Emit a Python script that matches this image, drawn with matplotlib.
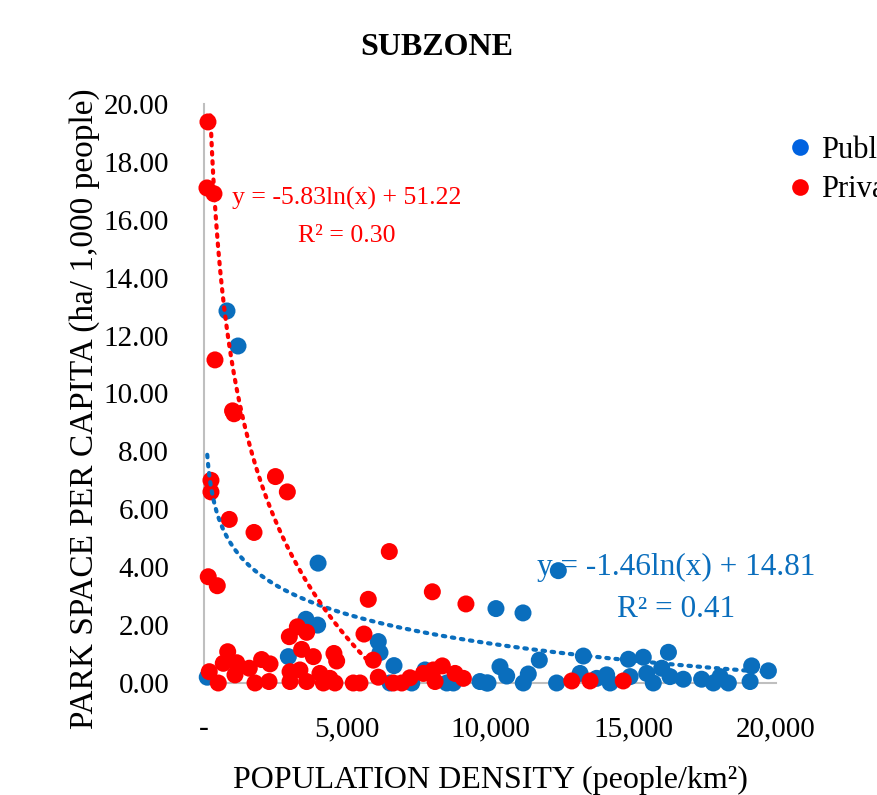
import matplotlib
matplotlib.use("Agg")
import matplotlib.pyplot as plt
import numpy as np
from matplotlib.lines import Line2D

# public park space per capita vs population density
public_x = [115, 805, 1190, 3990, 3567, 3975, 2950, 6095, 6155, 6645, 6505, 7265, 7730,
            8490, 8720, 9650, 9930, 10210, 11155, 12390, 11725, 10350, 10585, 9885, 11165,
            11340, 12330, 13265, 13150, 13730, 14080, 14200, 14840, 15360, 14900, 15480,
            15710, 16005, 16240, 16295, 16760, 17400, 17810, 18045, 18335, 19150, 19095, 19735]
public_y = [0.20, 12.85, 11.64, 4.14, 2.20, 2.00, 0.91, 1.43, 1.05, 0.60, 0.00, 0.00, 0.45,
            0.00, 0.00, 0.05, 0.00, 2.57, 2.42, 3.88, 0.79, 0.56, 0.24, 0.00, 0.00,
            0.31, 0.00, 0.93, 0.33, 0.16, 0.28, 0.00, 0.82, 0.89, 0.22, 0.33,
            0.00, 0.51, 1.06, 0.22, 0.13, 0.13, 0.00, 0.22, 0.00, 0.59, 0.05, 0.42]

# private park space per capita vs population density
private_x = [140, 105, 350, 385, 1000, 1050, 245, 245, 2500, 2915, 885, 1750, 150, 465,
             6480, 5745, 7985, 9160, 2985, 3265, 3590, 5595, 3415, 3825, 4545, 4640, 5920,
             830, 675, 1145, 2015, 2310, 1585, 185, 500, 1085, 1785, 2275, 3010, 3355,
             3010, 3590, 4055, 4405, 4175, 4580, 5220, 5455, 6095, 6620, 6915, 7205, 7670,
             8020, 8335, 8080, 8780, 9070, 12860, 13500, 14660]
private_y = [19.38, 17.10, 16.90, 11.16, 9.40, 9.30, 7.00, 6.60, 7.13, 6.60, 5.65, 5.20, 3.67, 3.36,
             4.54, 2.89, 3.15, 2.73, 1.60, 1.94, 1.75, 1.69, 1.16, 0.91, 1.02, 0.76, 0.79,
             1.08, 0.68, 0.70, 0.81, 0.66, 0.51, 0.39, 0.00, 0.28, 0.00, 0.05, 0.39, 0.45,
             0.05, 0.05, 0.33, 0.16, 0.00, 0.00, 0.00, 0.00, 0.20, 0.00, 0.00, 0.18, 0.33,
             0.45, 0.59, 0.05, 0.33, 0.16, 0.07, 0.07, 0.07]

# logarithmic trendlines y = a ln(x) + b, with R^2
public_fit = (-1.46, 14.81, 0.41)
private_fit = (-5.83, 51.22, 0.30)

x_ticks = [0, 5000, 10000, 15000, 20000]
x_tick_labels = ["-", "5,000", "10,000", "15,000", "20,000"]
y_ticks = np.arange(0, 21, 2)

blue = "#0A6EBD"
red = "#FF0000"
plt.rcParams["font.family"] = ["Liberation Serif", "DejaVu Serif"]

fig = plt.figure(figsize=(8.78, 7.95), dpi=100)
ax = fig.add_axes([0.2323, 0.1409, 0.6515, 0.7283])

ax.scatter(public_x, public_y, s=150, color=blue, edgecolors="none", zorder=3, clip_on=False)
ax.scatter(private_x, private_y, s=150, color=red, edgecolors="none", zorder=4, clip_on=False)

for xs, fit, col in [(public_x, public_fit, blue), (private_x, private_fit, red)]:
    a, b, _ = fit
    xx = np.linspace(min(xs), max(xs), 600)
    yy = a * np.log(xx) + b
    keep = (yy >= 0) & (yy <= 20)
    ax.plot(xx[keep], yy[keep], linestyle=(0, (0.6, 1.6)), color=col, linewidth=3,
            dash_capstyle="round", zorder=5)

ax.set_xlim(0, 20000)
ax.set_ylim(0, 20)
ax.set_xticks(x_ticks)
ax.set_xticklabels(x_tick_labels)
ax.set_yticks(y_ticks)
ax.set_yticklabels([f"{v:.2f}" for v in y_ticks])
ax.tick_params(length=0, labelsize=21, colors="#000000")
ax.tick_params(axis="y", pad=25)
ax.tick_params(axis="x", pad=24)
for side in ["top", "right"]:
    ax.spines[side].set_visible(False)
for side in ["left", "bottom"]:
    ax.spines[side].set_color("#BFBFBF")
    ax.spines[side].set_linewidth(1.5)

fig.text(0.498, 0.940, "SUBZONE", fontsize=23, fontweight="bold", ha="center", va="center")
ax.set_xlabel("POPULATION DENSITY (people/km²)", fontsize=23, labelpad=17)
ax.set_ylabel("PARK SPACE PER CAPITA (ha/ 1,000 people)", fontsize=24)
ax.yaxis.set_label_coords(-0.182, 0.474)

ax.text(5000, 16.75, f"y = {private_fit[0]:.2f}ln(x) + {private_fit[1]:.2f}",
        color=red, fontsize=18.5, ha="center", va="center", zorder=6)
ax.text(5000, 15.45, f"R² = {private_fit[2]:.2f}", color=red, fontsize=18.5,
        ha="center", va="center", zorder=6)
ax.text(16500, 4.0, f"y = {public_fit[0]:.2f}ln(x) + {public_fit[1]:.2f}",
        color=blue, fontsize=22.5, ha="center", va="center", zorder=2)
ax.text(16500, 2.55, f"R² = {public_fit[2]:.2f}", color=blue, fontsize=22.5,
        ha="center", va="center", zorder=2)

handles = [
    Line2D([0], [0], marker="o", linestyle="none", markersize=12, markerfacecolor="#0062E0",
           markeredgecolor="none", label="Public"),
    Line2D([0], [0], marker="o", linestyle="none", markersize=12, markerfacecolor=red,
           markeredgecolor="none", label="Private"),
]
fig.legend(handles=handles, loc="upper left", bbox_to_anchor=(0.8625, 0.864), frameon=False,
           fontsize=22, handletextpad=0.2, labelspacing=0.35, handlelength=1.0)

fig.savefig("out.png", dpi=100)
